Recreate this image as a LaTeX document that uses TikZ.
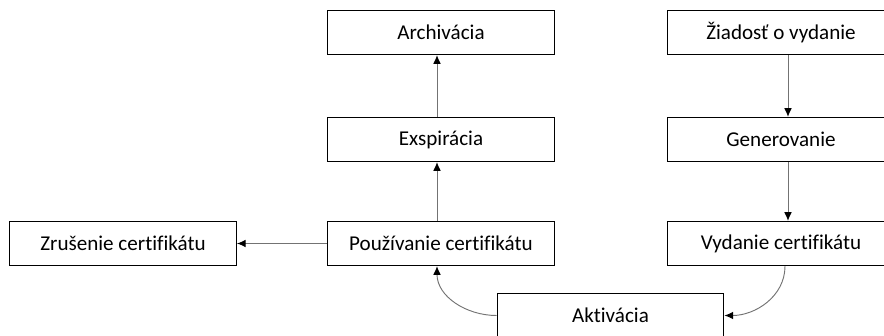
\documentclass[tikz,border=0pt]{standalone}
\usepackage{fontspec}
\setmainfont[Ligatures=NoCommon]{Carlito}
\usetikzlibrary{arrows.meta}

\begin{document}
\begin{tikzpicture}[font=\fontsize{18}{21}\selectfont,
    stage/.style={draw, rectangle, line width=1.1pt, minimum width=6.8cm, minimum height=1.32cm},
    flow/.style={-{Latex[length=2.6mm, width=2.3mm, black]}, draw=black!55, line width=0.8pt}]
    \useasboundingbox (0,0) rectangle (26.52,-10.08);
    \begin{scope}
    \clip (0,0) rectangle (26.52,-10.08);
    % levy a stredny stlpec
    \node[stage] (zrus) at (3.69,-7.305) {Zrušenie certifikátu};
    \node[stage] (pouz) at (13.23,-7.305) {Používanie certifikátu};
    \node[stage] (exsp) at (13.23,-4.185) {Exspirácia};
    \node[stage] (arch) at (13.23,-0.975) {Archivácia};
    % pravy stlpec
    \node[stage] (zia) at (23.43,-0.975) {Žiadosť o vydanie};
    \node[stage] (gen) at (23.43,-4.185) {Generovanie};
    \node[stage] (vyd) at (23.43,-7.305) {Vydanie certifikátu};
    \node[stage] (akt) at (18.315,-9.465) {Aktivácia};
    % sipky
    \draw[flow] ([xshift=-0.12cm]pouz.north) -- ([xshift=-0.12cm]exsp.south);
    \draw[flow] ([xshift=-0.12cm]exsp.north) -- ([xshift=-0.12cm]arch.south);
    \draw[flow] (pouz.west) -- (zrus.east);
    \draw[flow] ([xshift=0.21cm]zia.south) -- ([xshift=0.21cm]gen.north);
    \draw[flow] ([xshift=0.21cm]gen.south) -- ([xshift=0.21cm]vyd.north);
    \draw[flow] ([xshift=0.12cm]vyd.south) to[out=-90, in=0] (akt.east);
    \draw[flow] (akt.west) to[out=180, in=-90] ([xshift=-0.12cm]pouz.south);
    \end{scope}
\end{tikzpicture}
\end{document}
